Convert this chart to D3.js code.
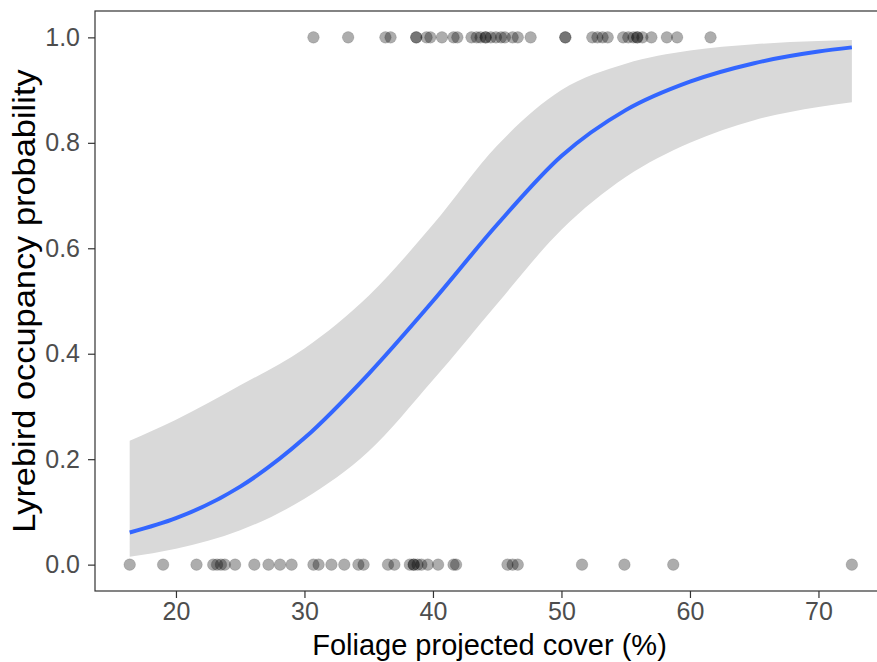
<!DOCTYPE html>
<html lang="en">
<head>
<meta charset="UTF-8">
<title>Lyrebird occupancy</title>
<style>
  body, html { margin: 0; background: #fff; }
  svg { display: block; }
  text { font-family: "Liberation Sans", Arial, sans-serif; }
</style>
</head>
<body>
<script src="https://d3js.org/d3.v7.min.js"></script>
<script>
// observed sites: foliage cover where lyrebird was present (1) / absent (0)
var present = [30.7, 33.4, 36.3, 36.7, 38.7, 38.7, 39.5, 39.8, 40.7, 41.6, 41.9,
               43.0, 43.4, 43.7, 44.1, 44.1, 44.5, 44.9, 45.3, 45.6, 46.2, 46.6,
               47.6, 50.3, 50.3, 52.4, 52.8, 53.2, 53.6, 54.8, 55.2, 55.6, 55.9,
               55.9, 56.3, 57.0, 58.2, 59.0, 61.6];
var absent = [16.4, 19.0, 21.6, 22.9, 23.2, 23.5, 23.8, 24.6, 26.1, 27.2, 28.1,
              29.0, 30.7, 31.1, 32.1, 33.1, 34.2, 34.6, 36.5, 37.0, 38.2, 38.5,
              38.5, 38.8, 39.1, 39.6, 40.4, 41.6, 41.8, 45.8, 46.2, 46.6, 51.6,
              54.9, 58.7, 72.6];

// fitted curve and 95% band
var fitX  = [16.4, 20, 25, 30, 35, 40, 45, 50, 55, 60, 65, 70, 72.6];
var fitY  = [0.061, 0.088, 0.148, 0.240, 0.362, 0.500, 0.645, 0.775, 0.862, 0.916, 0.951, 0.973, 0.981];
var upper = [0.235, 0.275, 0.340, 0.410, 0.510, 0.645, 0.795, 0.900, 0.950, 0.975, 0.987, 0.993, 0.995];
var lower = [0.015, 0.030, 0.065, 0.125, 0.215, 0.350, 0.495, 0.635, 0.735, 0.800, 0.843, 0.868, 0.877];

var xTicks = [20, 30, 40, 50, 60, 70];
var yTicks = [0, 0.2, 0.4, 0.6, 0.8, 1.0];

var width = 877, height = 662;
var margin = {top: 11, right: -7, bottom: 71, left: 95};

var svg = d3.select("body").append("svg")
    .attr("width", width)
    .attr("height", height);

var x = d3.scaleLinear().domain([13.7, 75.1]).range([margin.left, width - margin.right]);
var y = d3.scaleLinear().domain([-0.05, 1.05]).range([height - margin.bottom, margin.top]);

var band = fitX.map(function(d, i) { return {x: d, lo: lower[i], hi: upper[i], y: fitY[i]}; });

svg.append("path")
    .datum(band)
    .attr("fill", "#d9d9d9")
    .attr("d", d3.area()
        .x(function(d) { return x(d.x); })
        .y0(function(d) { return y(d.lo); })
        .y1(function(d) { return y(d.hi); })
        .curve(d3.curveMonotoneX));

svg.append("path")
    .datum(band)
    .attr("fill", "none")
    .attr("stroke", "#3366ff")
    .attr("stroke-width", 4)
    .attr("d", d3.line()
        .x(function(d) { return x(d.x); })
        .y(function(d) { return y(d.y); })
        .curve(d3.curveMonotoneX));

var pts = present.map(function(d) { return [d, 1]; })
    .concat(absent.map(function(d) { return [d, 0]; }));

svg.append("g").selectAll("circle")
    .data(pts)
    .enter().append("circle")
    .attr("cx", function(d) { return x(d[0]); })
    .attr("cy", function(d) { return y(d[1]); })
    .attr("r", 5.8)
    .attr("fill", "#000")
    .attr("fill-opacity", 0.32)
    .attr("stroke", "#000")
    .attr("stroke-opacity", 0.12)
    .attr("stroke-width", 1);

// panel border
svg.append("rect")
    .attr("x", margin.left)
    .attr("y", margin.top)
    .attr("width", x.range()[1] - margin.left)
    .attr("height", y.range()[0] - margin.top)
    .attr("fill", "none")
    .attr("stroke", "#333")
    .attr("stroke-width", 1.2);

var xAxis = svg.append("g")
    .attr("transform", "translate(0," + y.range()[0] + ")")
    .call(d3.axisBottom(x).tickValues(xTicks).tickSize(7).tickPadding(4).tickFormat(d3.format("d")));
var yAxis = svg.append("g")
    .attr("transform", "translate(" + margin.left + ",0)")
    .call(d3.axisLeft(y).tickValues(yTicks).tickSize(7).tickPadding(8).tickFormat(d3.format(".1f")));

[xAxis, yAxis].forEach(function(g) {
    g.select(".domain").remove();
    g.selectAll(".tick line").attr("stroke", "#333").attr("stroke-width", 1.2);
    g.selectAll(".tick text").attr("fill", "#4d4d4d").style("font-size", "25px");
});

svg.append("text")
    .attr("x", (margin.left + x.range()[1]) / 2)
    .attr("y", 655)
    .attr("text-anchor", "middle")
    .style("font-size", "29px")
    .attr("fill", "#000")
    .text("Foliage projected cover (%)");

// y title runs a bit longer in the original, stretch it along its baseline
svg.append("text")
    .attr("transform", "translate(35," + ((margin.top + y.range()[0]) / 2) + ") rotate(-90) scale(1.11,1)")
    .attr("text-anchor", "middle")
    .style("font-size", "31px")
    .attr("fill", "#000")
    .text("Lyrebird occupancy probability");
</script>
</body>
</html>
